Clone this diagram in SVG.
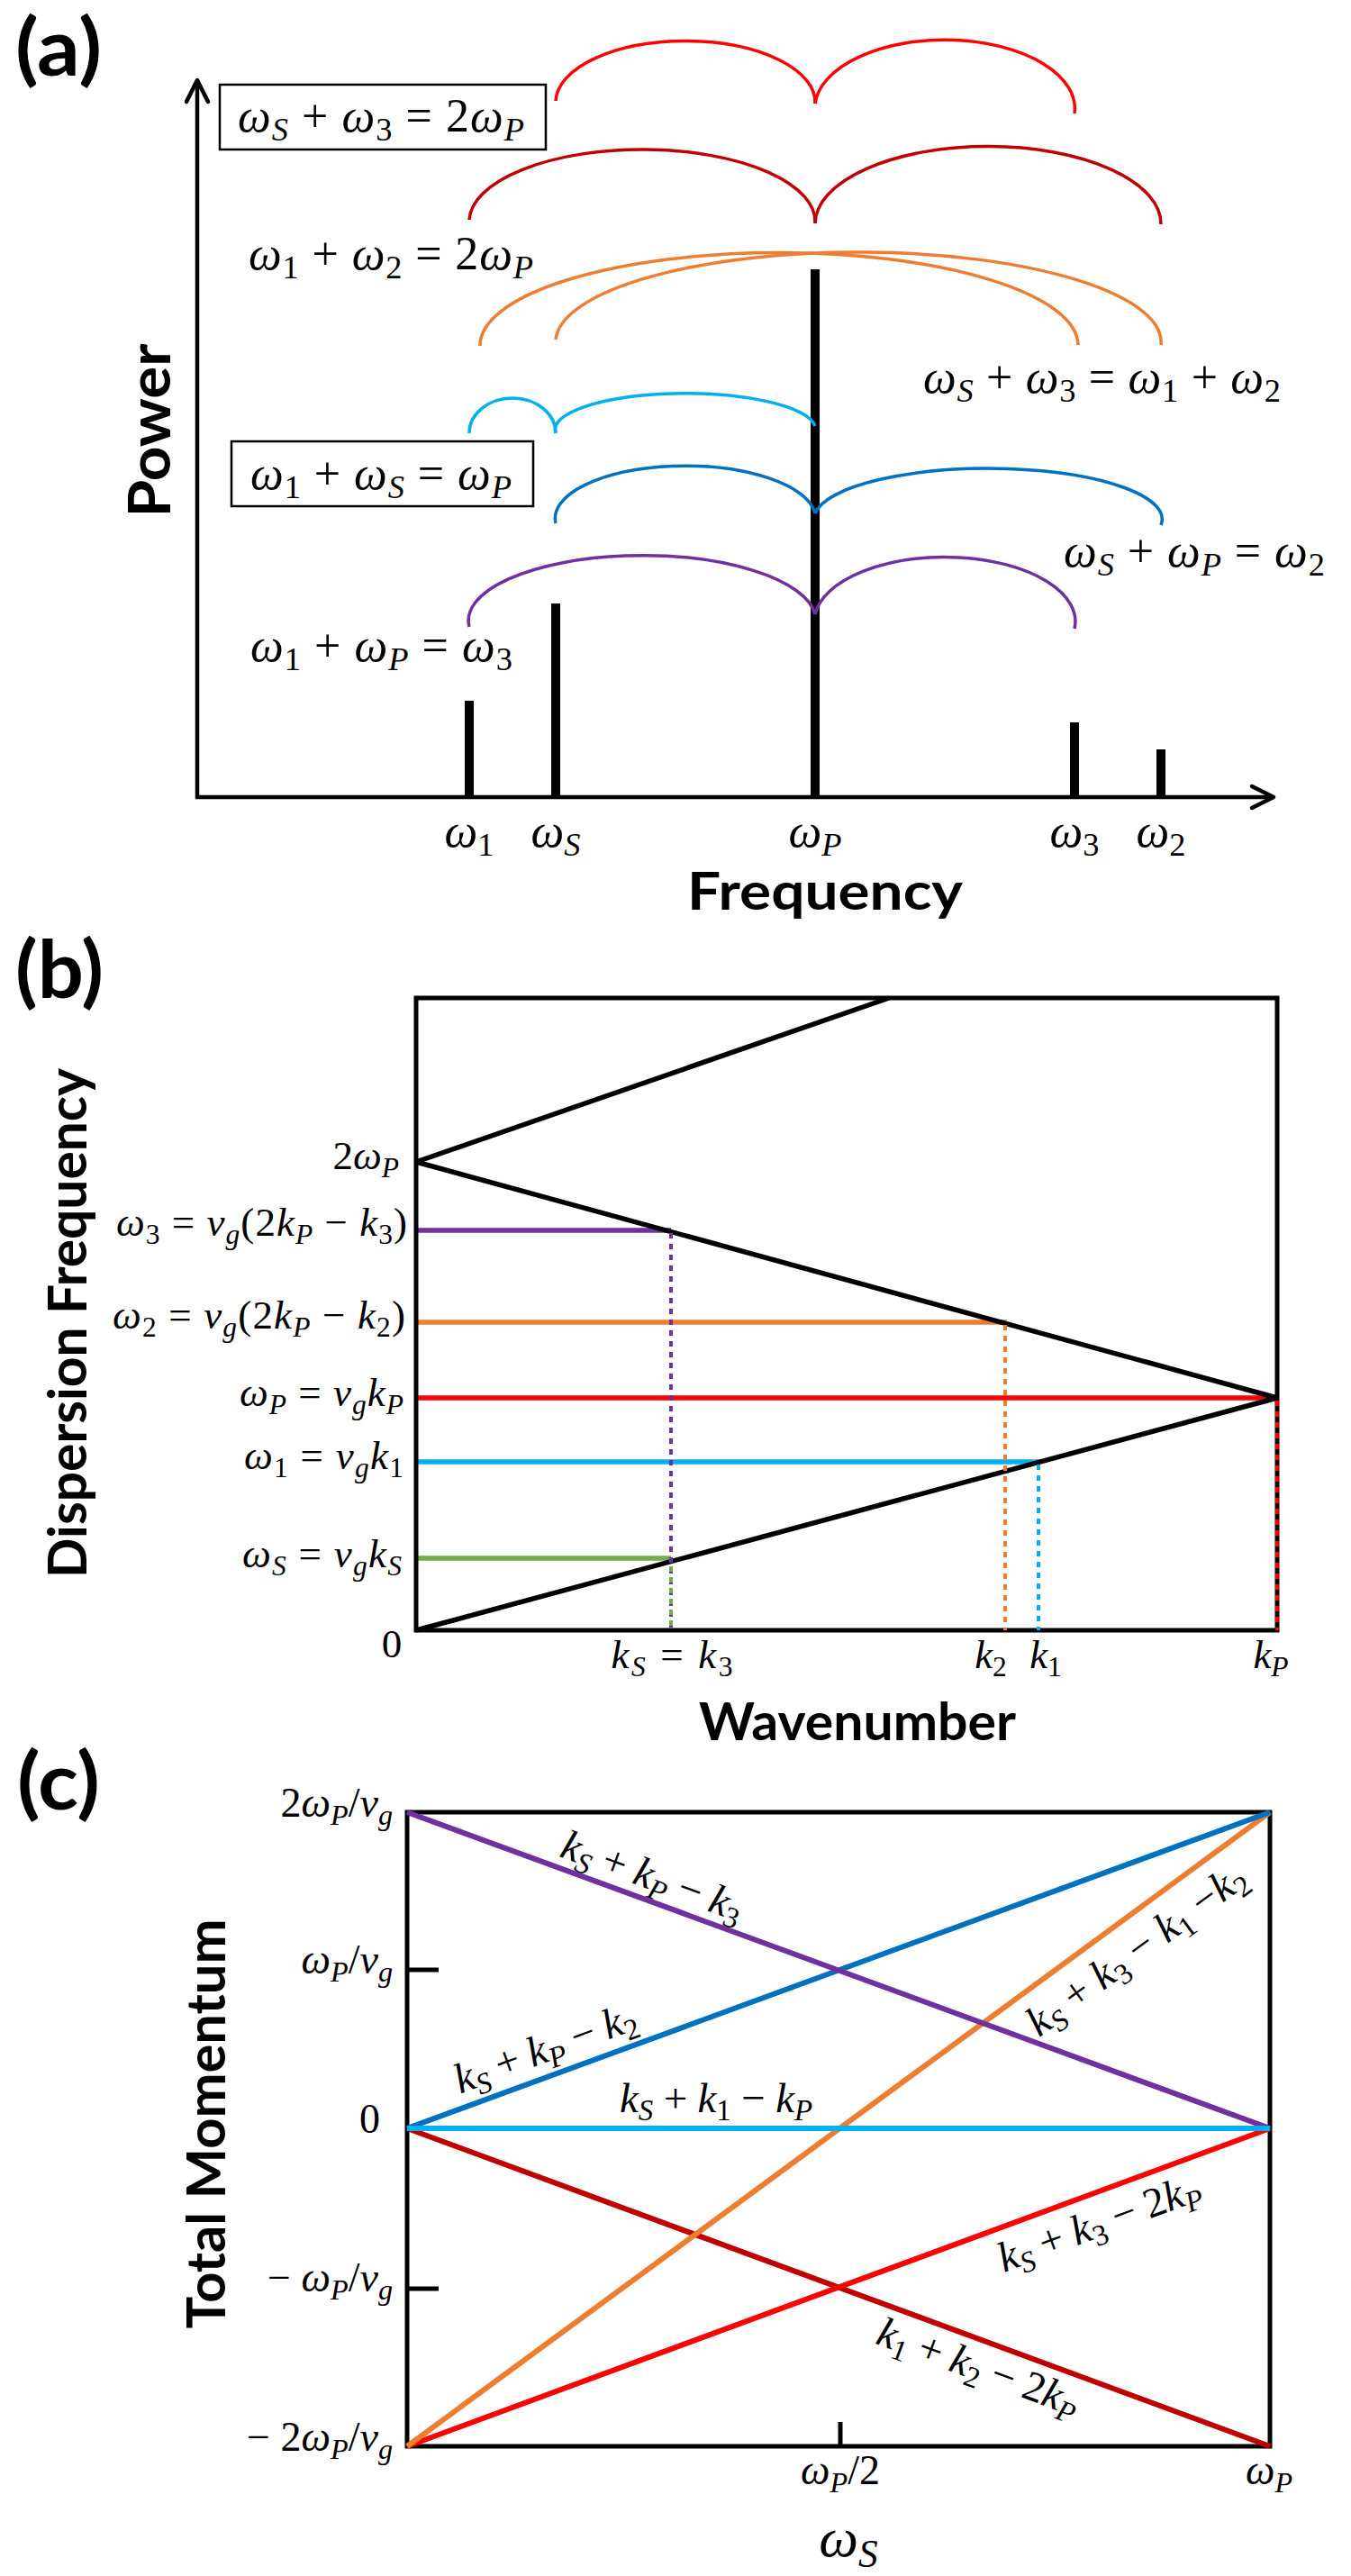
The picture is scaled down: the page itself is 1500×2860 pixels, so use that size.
<svg xmlns="http://www.w3.org/2000/svg" width="1500" height="2860" viewBox="0 0 1500 2860">
<defs>
<style>
.m{font-family:"Liberation Serif","DejaVu Serif",serif;fill:#000}
.i{font-style:italic}
.s{font-size:0.7em}
.si{font-size:0.7em;font-style:italic}
.t{font-family:Lato,"Liberation Sans",sans-serif;font-weight:700;fill:#000}
.ax{stroke:#000;stroke-width:4.5;fill:none}
.bar{stroke:#000;stroke-width:10;fill:none}
.arc{fill:none;stroke-width:3.5}
.bx{fill:none;stroke:#000;stroke-width:2.5}
.fr{fill:none;stroke:#000;stroke-width:5}
.bl{stroke:#000;stroke-width:5.5;fill:none}
.hl{stroke-width:5.5;fill:none}
.dt{stroke-width:4;fill:none;stroke-dasharray:6 6}
.cl{stroke-width:6;fill:none}
</style>
<marker id="arr" markerUnits="userSpaceOnUse" markerWidth="40" markerHeight="40" refX="0" refY="0" viewBox="-30 -20 40 40" orient="auto">
<path d="M-24,-12 L0,0 L-24,12" fill="none" stroke="#000" stroke-width="4.5" stroke-linecap="round" stroke-linejoin="round"/>
</marker>
</defs>
<rect width="1500" height="2860" fill="#fff"/>

<!-- ================= Panel (a) ================= -->
<g id="panel-a">
<text id="label-a" class="t" x="17" y="84" font-size="88" textLength="96" lengthAdjust="spacingAndGlyphs">(a)</text>
<g id="axes-a">
<line class="ax" x1="219" y1="887" x2="219" y2="89" marker-end="url(#arr)"/>
<line class="ax" x1="217" y1="885" x2="1414" y2="885" marker-end="url(#arr)"/>
</g>
<g id="bars">
<line id="bar-w1" class="bar" x1="521" y1="885" x2="521" y2="778"/>
<line id="bar-wS" class="bar" x1="617" y1="885" x2="617" y2="670"/>
<line id="bar-wP" class="bar" x1="905" y1="885" x2="905" y2="299"/>
<line id="bar-w3" class="bar" x1="1193" y1="885" x2="1193" y2="802"/>
<line id="bar-w2" class="bar" x1="1289" y1="885" x2="1289" y2="832"/>
</g>
<g id="tick-labels-a" class="m" font-size="52" text-anchor="middle">
<text x="521" y="940"><tspan class="i">ω</tspan><tspan class="s" dy="10">1</tspan></text>
<text x="617" y="940"><tspan class="i">ω</tspan><tspan class="si" dy="10">S</tspan></text>
<text x="905" y="940"><tspan class="i">ω</tspan><tspan class="si" dy="10">P</tspan></text>
<text x="1193" y="940"><tspan class="i">ω</tspan><tspan class="s" dy="10">3</tspan></text>
<text x="1289" y="940"><tspan class="i">ω</tspan><tspan class="s" dy="10">2</tspan></text>
</g>
<text id="xlabel-a" class="t" x="916" y="1010" font-size="58" text-anchor="middle" textLength="306" lengthAdjust="spacingAndGlyphs">Frequency</text>
<text id="ylabel-a" class="t" transform="translate(189,478) rotate(-90)" x="0" y="0" font-size="65" text-anchor="middle" textLength="193" lengthAdjust="spacingAndGlyphs">Power</text>

<g id="eq-sS3-2P">
<rect class="bx" x="244" y="94" width="362" height="72"/>
<text class="m" x="264" y="146" font-size="52" textLength="318" lengthAdjust="spacing"><tspan class="i">ω</tspan><tspan class="si" dy="10">S</tspan><tspan dy="-10"> + </tspan><tspan class="i">ω</tspan><tspan class="s" dy="10">3</tspan><tspan dy="-10"> = 2</tspan><tspan class="i">ω</tspan><tspan class="si" dy="10">P</tspan></text>
</g>
<g id="eq-12-2P">
<text class="m" x="276" y="299" font-size="52" textLength="316" lengthAdjust="spacing"><tspan class="i">ω</tspan><tspan class="s" dy="10">1</tspan><tspan dy="-10"> + </tspan><tspan class="i">ω</tspan><tspan class="s" dy="10">2</tspan><tspan dy="-10"> = 2</tspan><tspan class="i">ω</tspan><tspan class="si" dy="10">P</tspan></text>
</g>
<g id="eq-S3-12">
<text class="m" x="1025" y="436" font-size="52" textLength="397" lengthAdjust="spacing"><tspan class="i">ω</tspan><tspan class="si" dy="10">S</tspan><tspan dy="-10"> + </tspan><tspan class="i">ω</tspan><tspan class="s" dy="10">3</tspan><tspan dy="-10"> = </tspan><tspan class="i">ω</tspan><tspan class="s" dy="10">1</tspan><tspan dy="-10"> + </tspan><tspan class="i">ω</tspan><tspan class="s" dy="10">2</tspan></text>
</g>
<g id="eq-1S-P">
<rect class="bx" x="257" y="490" width="335" height="72"/>
<text class="m" x="278" y="543" font-size="52" textLength="290" lengthAdjust="spacing"><tspan class="i">ω</tspan><tspan class="s" dy="10">1</tspan><tspan dy="-10"> + </tspan><tspan class="i">ω</tspan><tspan class="si" dy="10">S</tspan><tspan dy="-10"> = </tspan><tspan class="i">ω</tspan><tspan class="si" dy="10">P</tspan></text>
</g>
<g id="eq-SP-2">
<text class="m" x="1181" y="629" font-size="52" textLength="290" lengthAdjust="spacing"><tspan class="i">ω</tspan><tspan class="si" dy="10">S</tspan><tspan dy="-10"> + </tspan><tspan class="i">ω</tspan><tspan class="si" dy="10">P</tspan><tspan dy="-10"> = </tspan><tspan class="i">ω</tspan><tspan class="s" dy="10">2</tspan></text>
</g>
<g id="eq-1P-3">
<text class="m" x="278" y="734" font-size="52" textLength="291" lengthAdjust="spacing"><tspan class="i">ω</tspan><tspan class="s" dy="10">1</tspan><tspan dy="-10"> + </tspan><tspan class="i">ω</tspan><tspan class="si" dy="10">P</tspan><tspan dy="-10"> = </tspan><tspan class="i">ω</tspan><tspan class="s" dy="10">3</tspan></text>
</g>
</g>

<g id="connectors">
<g id="arcs-red" class="arc" stroke="#FF0000">
<path d="M617,112 A144,68 0 0 1 905,115"/>
<path d="M905,115 A144,76 0 0 1 1193,126"/>
</g>
<g id="arcs-darkred" class="arc" stroke="#C00000">
<path d="M521,244 A192,80 0 0 1 905,248"/>
<path d="M905,248 A192,86 0 0 1 1289,249"/>
</g>
<g id="arcs-orange" class="arc" stroke="#ED7D31">
<path d="M533,384 A332,103 0 0 1 1197,383"/>
<path d="M617,377 A336,100 0 0 1 1289,383"/>
</g>
<g id="arcs-lightblue" class="arc" stroke="#00B0F0">
<path d="M521,481 A48,39 0 0 1 617,481"/>
<path d="M617,481 A144,40 0 0 1 905,473"/>
</g>
<g id="arcs-blue" class="arc" stroke="#0070C0">
<path d="M617,581 A144,58 0 0 1 905,570"/>
<path d="M905,570 A192,56 0 0 1 1289,583"/>
</g>
<g id="arcs-purple" class="arc" stroke="#7030A0">
<path d="M521,696 A192,72 0 0 1 905,682"/>
<path d="M905,682 A144,71 0 0 1 1193,698"/>
</g>
</g>

<!-- ================= Panel (b) ================= -->
<g id="panel-b">
<text id="label-b" class="t" x="17" y="1108" font-size="88" textLength="98" lengthAdjust="spacingAndGlyphs">(b)</text>
<g id="hlines-b">
<line class="hl" stroke="#7030A0" x1="462" y1="1366" x2="745" y2="1366"/>
<line class="hl" stroke="#ED7D31" x1="462" y1="1468" x2="1118" y2="1468"/>
<line class="hl" stroke="#FF0000" x1="462" y1="1552" x2="1418" y2="1552"/>
<line class="hl" stroke="#00B0F0" x1="462" y1="1623" x2="1155" y2="1623"/>
<line class="hl" stroke="#70AD47" x1="462" y1="1730" x2="745" y2="1730"/>
</g>
<rect id="frame-b" class="fr" x="462" y="1108" width="956" height="702"/>
<g id="dispersion">
<line class="bl" x1="462" y1="1810" x2="1418" y2="1552"/>
<line class="bl" x1="462" y1="1290" x2="1418" y2="1552"/>
<line class="bl" x1="462" y1="1290" x2="987" y2="1108"/>
</g>
<g id="vdots-b">
<line class="dt" stroke="#7030A0" x1="745" y1="1369" x2="745" y2="1810"/>
<line class="dt" stroke="#70AD47" stroke-dashoffset="6" x1="745" y1="1733" x2="745" y2="1810"/>
<line class="dt" stroke="#ED7D31" x1="1116" y1="1471" x2="1116" y2="1810"/>
<line class="dt" stroke="#00B0F0" x1="1153" y1="1626" x2="1153" y2="1810"/>
<line class="dt" stroke="#FF0000" x1="1418" y1="1555" x2="1418" y2="1810"/>
</g>
<g id="ylabels-b" class="m" font-size="45" text-anchor="end">
<text x="443" y="1298">2<tspan class="i">ω</tspan><tspan class="si" dy="9">P</tspan></text>
<text x="452" y="1372" textLength="323" lengthAdjust="spacing"><tspan class="i">ω</tspan><tspan class="s" dy="9">3</tspan><tspan dy="-9"> = </tspan><tspan class="i">v</tspan><tspan class="si" dy="9">g</tspan><tspan dy="-9">(2</tspan><tspan class="i">k</tspan><tspan class="si" dy="9">P</tspan><tspan dy="-9"> − </tspan><tspan class="i">k</tspan><tspan class="s" dy="9">3</tspan><tspan dy="-9">)</tspan></text>
<text x="450" y="1475" textLength="325" lengthAdjust="spacing"><tspan class="i">ω</tspan><tspan class="s" dy="9">2</tspan><tspan dy="-9"> = </tspan><tspan class="i">v</tspan><tspan class="si" dy="9">g</tspan><tspan dy="-9">(2</tspan><tspan class="i">k</tspan><tspan class="si" dy="9">P</tspan><tspan dy="-9"> − </tspan><tspan class="i">k</tspan><tspan class="s" dy="9">2</tspan><tspan dy="-9">)</tspan></text>
<text x="448" y="1561" textLength="182" lengthAdjust="spacing"><tspan class="i">ω</tspan><tspan class="si" dy="9">P</tspan><tspan dy="-9"> = </tspan><tspan class="i">v</tspan><tspan class="si" dy="9">g</tspan><tspan class="i" dy="-9">k</tspan><tspan class="si" dy="9">P</tspan></text>
<text x="448" y="1631" textLength="177" lengthAdjust="spacing"><tspan class="i">ω</tspan><tspan class="s" dy="9">1</tspan><tspan dy="-9"> = </tspan><tspan class="i">v</tspan><tspan class="si" dy="9">g</tspan><tspan class="i" dy="-9">k</tspan><tspan class="s" dy="9">1</tspan></text>
<text x="446" y="1740" textLength="177" lengthAdjust="spacing"><tspan class="i">ω</tspan><tspan class="si" dy="9">S</tspan><tspan dy="-9"> = </tspan><tspan class="i">v</tspan><tspan class="si" dy="9">g</tspan><tspan class="i" dy="-9">k</tspan><tspan class="si" dy="9">S</tspan></text>
</g>
<g id="xlabels-b" class="m" font-size="45" text-anchor="middle">
<text x="435" y="1840">0</text>
<text x="746" y="1852" textLength="135" lengthAdjust="spacing"><tspan class="i">k</tspan><tspan class="si" dy="9">S</tspan><tspan dy="-9"> = </tspan><tspan class="i">k</tspan><tspan class="s" dy="9">3</tspan></text>
<text x="1100" y="1852"><tspan class="i">k</tspan><tspan class="s" dy="9">2</tspan></text>
<text x="1161" y="1852"><tspan class="i">k</tspan><tspan class="s" dy="9">1</tspan></text>
<text x="1411" y="1852"><tspan class="i">k</tspan><tspan class="si" dy="9">P</tspan></text>
</g>
<text id="xlabel-b" class="t" x="952" y="1932" font-size="58" text-anchor="middle" textLength="352" lengthAdjust="spacingAndGlyphs">Wavenumber</text>
<text id="ylabel-b" class="t" transform="translate(96,1469) rotate(-90)" x="0" y="0" font-size="60" text-anchor="middle" textLength="566" lengthAdjust="spacingAndGlyphs">Dispersion Frequency</text>
</g>

<!-- ================= Panel (c) ================= -->
<g id="panel-c">
<text id="label-c" class="t" x="19" y="2009" font-size="88" textLength="92" lengthAdjust="spacingAndGlyphs">(c)</text>
<rect id="frame-c" class="fr" x="452" y="2012" width="958" height="704"/>
<g id="ticks-c" stroke="#000" stroke-width="5">
<line x1="452" y1="2187" x2="487" y2="2187"/>
<line x1="452" y1="2541" x2="487" y2="2541"/>
<line x1="933" y1="2716" x2="933" y2="2689"/>
</g>
<g id="momentum-lines">
<line class="cl" stroke="#C00000" x1="452" y1="2363" x2="1410" y2="2716"/>
<line class="cl" stroke="#FF0000" x1="452" y1="2716" x2="1410" y2="2363"/>
<line class="cl" stroke="#ED7D31" stroke-width="4" x1="452" y1="2716" x2="1410" y2="2012"/>
<line class="cl" stroke="#0070C0" x1="452" y1="2363" x2="1410" y2="2012"/>
<line class="cl" stroke="#7030A0" x1="452" y1="2012" x2="1410" y2="2363"/>
<line class="cl" stroke="#00B0F0" stroke-width="6.5" x1="452" y1="2363" x2="1410" y2="2363"/>
</g>
<g id="ylabels-c" class="m" font-size="46" text-anchor="end">
<text x="436" y="2017">2<tspan class="i">ω</tspan><tspan class="si" dy="9">P</tspan><tspan dy="-9">/</tspan><tspan class="i">v</tspan><tspan class="si" dy="9">g</tspan></text>
<text x="436" y="2191"><tspan class="i">ω</tspan><tspan class="si" dy="9">P</tspan><tspan dy="-9">/</tspan><tspan class="i">v</tspan><tspan class="si" dy="9">g</tspan></text>
<text x="422" y="2368">0</text>
<text x="436" y="2544">− <tspan class="i">ω</tspan><tspan class="si" dy="9">P</tspan><tspan dy="-9">/</tspan><tspan class="i">v</tspan><tspan class="si" dy="9">g</tspan></text>
<text x="436" y="2721">− 2<tspan class="i">ω</tspan><tspan class="si" dy="9">P</tspan><tspan dy="-9">/</tspan><tspan class="i">v</tspan><tspan class="si" dy="9">g</tspan></text>
</g>
<g id="xlabels-c" class="m" font-size="46" text-anchor="middle">
<text x="933" y="2758"><tspan class="i">ω</tspan><tspan class="si" dy="9">P</tspan><tspan dy="-9">/2</tspan></text>
<text x="1409" y="2758"><tspan class="i">ω</tspan><tspan class="si" dy="9">P</tspan></text>
</g>
<text id="xlabel-c" class="m" x="942" y="2838" font-size="62" text-anchor="middle"><tspan class="i">ω</tspan><tspan class="si" dy="12">S</tspan></text>
<text id="ylabel-c" class="t" transform="translate(250,2358) rotate(-90)" x="0" y="0" font-size="60" text-anchor="middle" textLength="455" lengthAdjust="spacingAndGlyphs">Total Momentum</text>
<g id="line-labels-c" class="m" font-size="47" text-anchor="middle">
<text transform="translate(724,2085) rotate(20.1)" x="0" y="13" textLength="212" lengthAdjust="spacing"><tspan class="i">k</tspan><tspan class="si" dy="9">S</tspan><tspan dy="-9"> + </tspan><tspan class="i">k</tspan><tspan class="si" dy="9">P</tspan><tspan dy="-9"> − </tspan><tspan class="i">k</tspan><tspan class="s" dy="9">3</tspan></text>
<text transform="translate(606,2276) rotate(-20.1)" x="0" y="13" textLength="212" lengthAdjust="spacing"><tspan class="i">k</tspan><tspan class="si" dy="9">S</tspan><tspan dy="-9"> + </tspan><tspan class="i">k</tspan><tspan class="si" dy="9">P</tspan><tspan dy="-9"> − </tspan><tspan class="i">k</tspan><tspan class="s" dy="9">2</tspan></text>
<text x="795" y="2345" textLength="214" lengthAdjust="spacing"><tspan class="i">k</tspan><tspan class="si" dy="9">S</tspan><tspan dy="-9"> + </tspan><tspan class="i">k</tspan><tspan class="s" dy="9">1</tspan><tspan dy="-9"> − </tspan><tspan class="i">k</tspan><tspan class="si" dy="9">P</tspan></text>
<text transform="translate(1263,2166) rotate(-36.3)" x="0" y="13" textLength="290" lengthAdjust="spacing"><tspan class="i">k</tspan><tspan class="si" dy="9">S</tspan><tspan dy="-9"> + </tspan><tspan class="i">k</tspan><tspan class="s" dy="9">3</tspan><tspan dy="-9"> − </tspan><tspan class="i">k</tspan><tspan class="s" dy="9">1</tspan><tspan dy="-9"> −</tspan><tspan class="i">k</tspan><tspan class="s" dy="9">2</tspan></text>
<text transform="translate(1221,2470) rotate(-20.2)" x="0" y="13" textLength="236" lengthAdjust="spacing"><tspan class="i">k</tspan><tspan class="si" dy="9">S</tspan><tspan dy="-9"> + </tspan><tspan class="i">k</tspan><tspan class="s" dy="9">3</tspan><tspan dy="-9"> − 2</tspan><tspan class="i">k</tspan><tspan class="si" dy="9">P</tspan></text>
<text transform="translate(1086,2630) rotate(20.2)" x="0" y="13" textLength="236" lengthAdjust="spacing"><tspan class="i">k</tspan><tspan class="s" dy="9">1</tspan><tspan dy="-9"> + </tspan><tspan class="i">k</tspan><tspan class="s" dy="9">2</tspan><tspan dy="-9"> − 2</tspan><tspan class="i">k</tspan><tspan class="si" dy="9">P</tspan></text>
</g>
</g>
</svg>
